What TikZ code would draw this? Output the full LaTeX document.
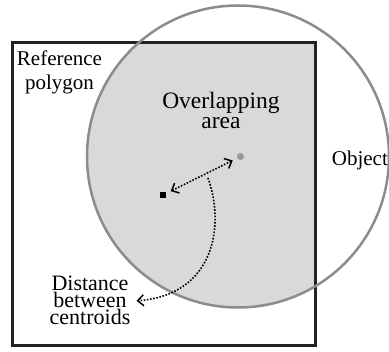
\documentclass[tikz,border=0pt]{standalone}
\usepackage{fontspec}
\setmainfont{Liberation Serif}
\usetikzlibrary{arrows.meta}
\definecolor{fillgray}{HTML}{D9D9D9}
\definecolor{circgray}{HTML}{8C8C8C}
\definecolor{dotgray}{HTML}{999999}
\definecolor{edgeblack}{HTML}{222222}
\begin{document}
\begin{tikzpicture}[x=1pt,y=-1pt,
  lbl/.style={inner sep=0pt, align=center, text=black},
  dotline/.style={line width=1.6pt, dash pattern=on 1.6pt off 1.6pt, black},
  barb/.tip={Straight Barb[length=6pt,width=11pt,line width=1.5pt]}]
\useasboundingbox (0,0) rectangle (389,352);
\begin{scope}
  \clip (12,43) rectangle (315,346);
  \fill[fillgray] (238,156.5) circle[radius=151pt];
\end{scope}
\draw[edgeblack, line width=3pt] (12,43) rectangle (315,346);
\draw[circgray, line width=2.5pt] (238,156.5) circle[radius=151pt];

\node[lbl, font=\fontsize{21}{24}\selectfont, anchor=base] (ref) at (59.5,90) {Reference\\polygon};
\node[lbl, font=\fontsize{23.5}{19.5}\selectfont, anchor=base] (ov) at (221,128.5) {Overlapping\\area};
\node[lbl, font=\fontsize{21}{24}\selectfont, anchor=base west] (obj) at (331.7,166) {Object};
\node[lbl, font=\fontsize{22}{17}\selectfont, anchor=base, inner xsep=6pt] (dist) at (90,325) {Distance\\between\\centroids};

\node[fill=black, minimum size=6pt, inner sep=0pt] (c1) at (163,195) {};
\node[circle, fill=dotgray, minimum size=7pt, inner sep=0pt] (c2) at (240.5,156.5) {};

\draw[dotline, barb-barb, shorten <=5pt, shorten >=5pt] (c1) -- (c2);
\coordinate (m) at (208,178);
\draw[dotline, -barb] (m) .. controls (225,225) and (215,295) .. (dist.east);
\end{tikzpicture}
\end{document}
